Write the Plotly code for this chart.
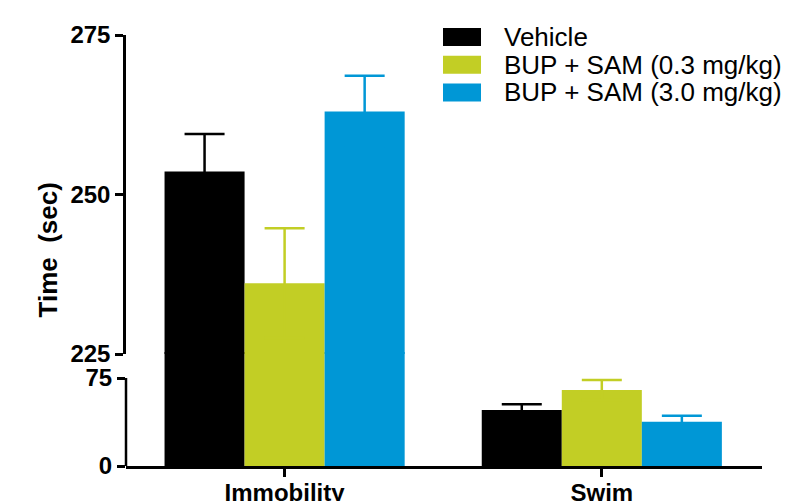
import plotly.graph_objects as go

categories = ["Immobility", "Swim"]
series_names = ["Vehicle", "BUP + SAM (0.3 mg/kg)", "BUP + SAM (3.0 mg/kg)"]
vehicle = [253.6, 47.7]
vehicle_err = [5.9, 4.9]
sam03 = [236.1, 64.8]
sam03_err = [8.6, 8.5]
sam30 = [263.0, 37.8]
sam30_err = [5.6, 5.1]
colors = ["#000000", "#C2CE25", "#0097D6"]

upper_ticks = [225, 250, 275]
lower_ticks = [0, 75]

FONT = "Liberation Sans, Arial, sans-serif"

# page offset (default body margin) and plot-area geometry (pixels)
OFF = 8
W, H = 811, 501
L, R, T, B = 126 - OFF, 57, 35 - OFF, 43
PW, PH = W - L - R, H - T - B
lower_px = 88          # 0..75 span
gap_px = 24            # break gap
px_per_unit_low = lower_px / 75.0
overlap_px = 2

fig = go.Figure()
values = [vehicle, sam03, sam30]
errors = [vehicle_err, sam03_err, sam30_err]

for (xa, ya) in [("x", "y"), ("x2", "y2")]:
    for name, v, e, c in zip(series_names, values, errors, colors):
        fig.add_trace(go.Bar(
            x=categories, y=v, name=name, marker=dict(color=c, line=dict(width=0)),
            error_y=dict(type="data", array=e, symmetric=True,
                         color=c, thickness=2.5, width=20),
            xaxis=xa, yaxis=ya, showlegend=False,
        ))

split = (lower_px + gap_px) / PH
lower_top = (lower_px + gap_px + overlap_px) / px_per_unit_low

tickfont = dict(size=24, weight="bold", family=FONT, color="black")

fig.update_layout(
    width=W, height=H,
    margin=dict(l=L, r=R, t=T, b=B, autoexpand=False),
    paper_bgcolor="white", plot_bgcolor="rgba(0,0,0,0)",
    barmode="group", bargap=0.243, bargroupgap=0,
    font=dict(family=FONT, color="black"),
    xaxis=dict(domain=[0, 1], range=[-0.5, 1.505], showline=True, linewidth=2.5,
               linecolor="black", ticks="outside", ticklen=8, tickwidth=2.5,
               tickcolor="black", tickfont=tickfont, automargin=False,
               ticklabelstandoff=-5,
               showgrid=False, zeroline=False),
    yaxis=dict(domain=[0, split + overlap_px / PH], range=[0, lower_top], tickvals=lower_ticks,
               ticks="outside", ticklen=8, tickwidth=2.5, tickcolor="black",
               showline=False, showgrid=False, zeroline=False, automargin=False,
               tickfont=tickfont),
    xaxis2=dict(domain=[0, 1], range=[-0.5, 1.505], anchor="y2", visible=False),
    yaxis2=dict(domain=[split, 1], range=[225, 275], tickvals=upper_ticks,
                anchor="x2", ticks="outside", ticklen=8, tickwidth=2.5, tickcolor="black",
                showline=True, linewidth=2.5, linecolor="black", automargin=False,
                showgrid=False, zeroline=False, tickfont=tickfont),
    showlegend=False,
)

# lower y-axis line segment (0 to 75)
fig.add_shape(type="line", xref="x domain", yref="y", x0=0, x1=0, y0=0, y1=75,
              line=dict(color="black", width=2.5))

# legend (swatches + labels), positions given in screen pixels
leg_x0, leg_x1, leg_text_x = 443 - OFF, 481 - OFF, 502 - OFF
leg_y0, leg_dy, sw_h = 37 - OFF, 27.7, 18
for i, (name, c) in enumerate(zip(series_names, colors)):
    yc = leg_y0 + i * leg_dy
    fig.add_shape(type="rect", xref="paper", yref="paper",
                  x0=(leg_x0 - L) / PW, x1=(leg_x1 - L) / PW,
                  y0=(H - B - yc - sw_h / 2) / PH, y1=(H - B - yc + sw_h / 2) / PH,
                  fillcolor=c, line=dict(width=0))
    fig.add_annotation(text=name, xref="paper", yref="paper",
                       x=(leg_text_x - L) / PW, y=(H - B - yc) / PH,
                       xanchor="left", yanchor="middle", showarrow=False,
                       font=dict(size=26, family=FONT, color="black"))

fig.add_annotation(text="Time\u00a0 (sec)", xref="paper", yref="paper",
                   x=(47 - OFF - L) / PW, y=0.5, xanchor="center", yanchor="middle",
                   textangle=-90, showarrow=False,
                   font=dict(size=26, weight="bold", family=FONT, color="black"))

fig.write_html("out.html")
